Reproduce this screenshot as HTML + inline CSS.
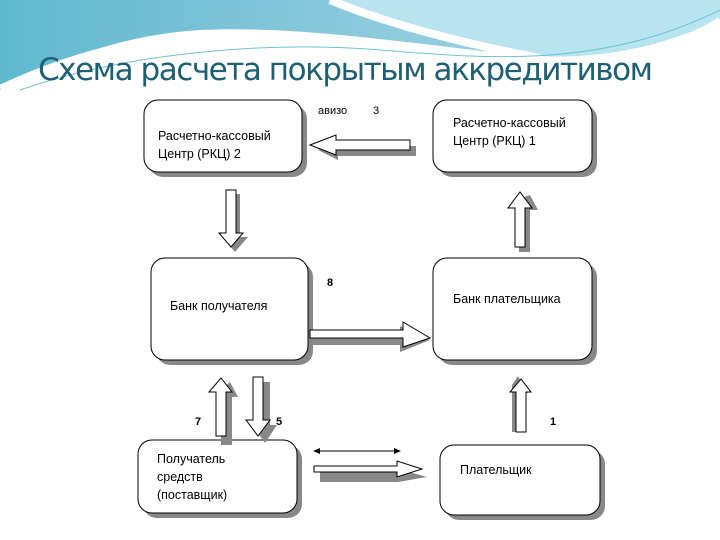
<!DOCTYPE html>
<html><head><meta charset="utf-8"><style>
body{margin:0;width:720px;height:540px;overflow:hidden;background:#fff}
svg{display:block}
text{font-family:"Liberation Sans",sans-serif}
</style></head><body>
<svg width="720" height="540" viewBox="0 0 720 540" xmlns="http://www.w3.org/2000/svg">
<defs>
<linearGradient id="g" x1="0" y1="0" x2="1" y2="0">
<stop offset="0" stop-color="#5fb8d0"/><stop offset="0.5" stop-color="#8cc9dc"/><stop offset="1" stop-color="#a8dcea"/>
</linearGradient>
</defs>
<rect width="720" height="540" fill="#fff"/>
<path d="M0 0H720V20C650 50 600 60 520 55C420 45 300 25 200 30C120 35 60 60 0 90Z" fill="url(#g)"/>
<path d="M330 0C380 20 460 40 520 55C600 62 660 45 720 20V0Z" fill="#b8e4ef"/>
<path d="M330 0C390 25 470 45 540 58" stroke="#fff" stroke-width="8" fill="none"/>
<path d="M0 88C80 50 160 32 250 35C350 40 450 55 560 60C630 60 680 45 720 20" stroke="#fff" stroke-width="6" fill="none"/>
<path d="M20 90C120 55 260 40 380 50C480 58 600 70 720 10" stroke="#6cc2d2" stroke-width="1" fill="none"/>
<text x="38" y="80" font-size="31" fill="#1d5f73" style="font-family:'DejaVu Sans',sans-serif" textLength="615">Схема расчета покрытым аккредитивом</text>
<g fill="#888">
<rect x="149" y="105" width="158" height="72" rx="14"/>
<rect x="438" y="105" width="159" height="72" rx="14"/>
<rect x="156" y="263" width="157" height="102" rx="14"/>
<rect x="438" y="263" width="159" height="102" rx="14"/>
<rect x="143" y="445" width="159" height="73" rx="14"/>
<rect x="445" y="450" width="160" height="70" rx="14"/>
</g>
<g fill="#fff" stroke="#000" stroke-width="1">
<rect x="144" y="100" width="158" height="72" rx="14"/>
<rect x="433" y="100" width="159" height="72" rx="14"/>
<rect x="151" y="258" width="157" height="102" rx="14"/>
<rect x="433" y="258" width="159" height="102" rx="14"/>
<rect x="138" y="440" width="159" height="73" rx="14"/>
<rect x="440" y="445" width="160" height="70" rx="14"/>
</g>
<g font-size="12.5" fill="#000">
<text x="158" y="140">Расчетно-кассовый</text><text x="158" y="158">Центр (РКЦ) 2</text>
<text x="453" y="127">Расчетно-кассовый</text><text x="453" y="145">Центр (РКЦ) 1</text>
<text x="170" y="310">Банк получателя</text>
<text x="453" y="303">Банк плательщика</text>
<text x="157" y="463">Получатель</text><text x="157" y="481">средств</text><text x="157" y="499">(поставщик)</text>
<text x="460" y="474">Плательщик</text>
</g>
<g font-size="11" fill="#000">
<text x="318" y="114">авизо</text><text x="373" y="114">3</text>
<text x="327" y="286" font-weight="bold">8</text>
<text x="195" y="425" font-weight="bold">7</text>
<text x="276" y="425" font-weight="bold">5</text>
<text x="550" y="425" font-weight="bold">1</text>
</g>
<!-- shadows -->
<g fill="#888">
<polygon points="318,150 338,140 338,146 416,146 416,156 338,156 338,160"/>
<polygon points="230,194 240,194 240,237 248,237 235,252 222,237 230,237"/>
<polygon points="519,199 530,195 538,210 530,210 530,252 519,252"/>
<polygon points="313,333 400,333 400,326 430,340 400,352 400,345 313,345"/>
<polygon points="221,390 230,382 238,397 232,397 232,445 221,445"/>
<polygon points="258,382 270,382 270,425 277,425 265,443 256,430"/>
<polygon points="512,385 518,376 528,393 522,393 522,432 512,432"/>
<polygon points="320,472 398,472 398,469 427,477 398,482 320,482"/>
</g>
<g fill="#fff" stroke="#000" stroke-width="1">
<polygon points="310,145 336,135 336,140 410,140 410,150 336,150 336,155"/>
<polygon points="226,190 236,190 236,233 243,233 231,247 219,233 226,233"/>
<polygon points="515,247 525,247 525,208 532,208 520,192 508,208 515,208"/>
<polygon points="310,330 403,330 403,322 430,338 403,347 403,338 310,338"/>
<polygon points="216,436 226,436 226,392 232,392 221,378 209,392 216,392"/>
<polygon points="253,377 263,377 263,420 270,420 258,436 246,420 253,420"/>
<polygon points="516,432 526,432 526,392 531,392 521,379 510,392 516,392"/>
<polygon points="314,466 397,466 397,461 422,469 397,477 397,472 314,472"/>
</g>
<line x1="317" y1="451" x2="397" y2="451" stroke="#000" stroke-width="1"/>
<polygon points="313,451 320,448 320,454" fill="#000"/>
<polygon points="401,451 394,448 394,454" fill="#000"/>
</svg>
</body></html>
